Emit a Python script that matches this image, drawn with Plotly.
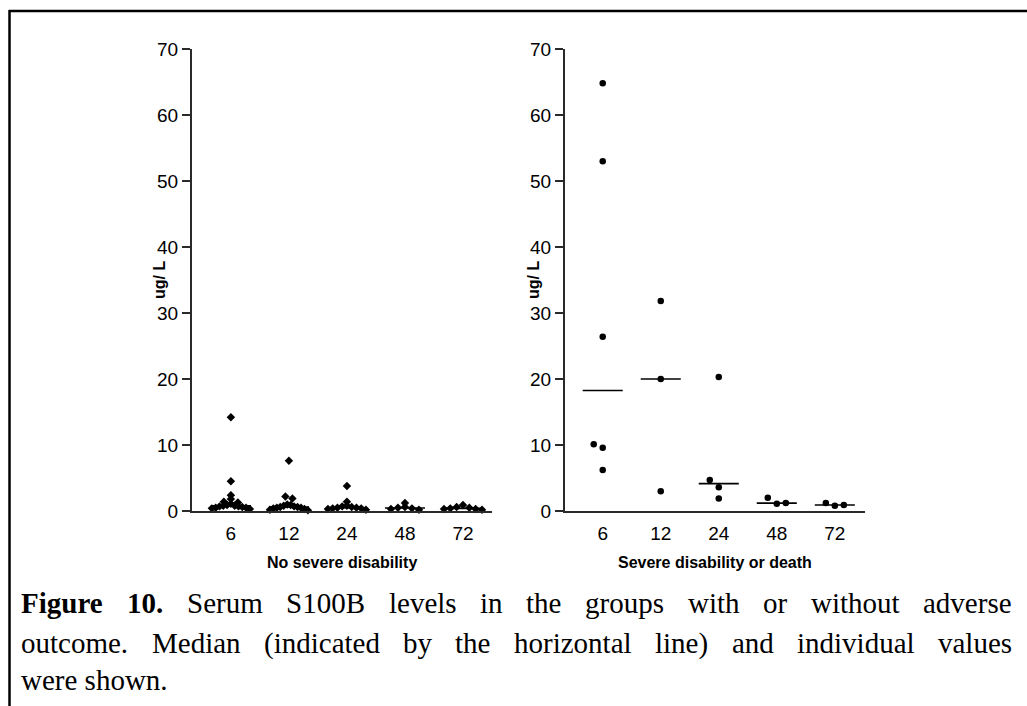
import numpy as np
import plotly.graph_objects as go

# ---------------- data ----------------
time_labels = ["6", "12", "24", "48", "72"]

no_severe_6 = [14.2, 4.5, 2.4, 1.8, 1.4, 1.3, 1.1, 0.9, 0.8, 0.8, 0.7, 0.7, 0.6, 0.5, 0.5, 0.4, 0.3]
no_severe_12 = [7.6, 2.2, 1.9, 1.0, 0.9, 0.8, 0.7, 0.6, 0.6, 0.5, 0.5, 0.4, 0.3, 0.2, 0.1]
no_severe_24 = [3.8, 1.4, 0.8, 0.7, 0.6, 0.5, 0.5, 0.4, 0.4, 0.3, 0.2]
no_severe_48 = [1.2, 0.6, 0.5, 0.4, 0.3, 0.2]
no_severe_72 = [0.9, 0.6, 0.5, 0.4, 0.3, 0.3, 0.2]

severe_6 = [6.2, 9.6, 10.1, 26.4, 53.0, 64.8]
severe_12 = [3.0, 20.0, 31.8]
severe_24 = [1.9, 3.6, 4.7, 20.3]
severe_48 = [1.1, 2.0, 1.2]
severe_72 = [0.8, 1.2, 0.9]

left_groups = [no_severe_6, no_severe_12, no_severe_24, no_severe_48, no_severe_72]
right_groups = [severe_6, severe_12, severe_24, severe_48, severe_72]

left_title = "No severe disability"
right_title = "Severe disability or death"
y_title = "ug/ L"
caption_lines = [
    ["<b>Figure</b>", "<b>10.</b>", "Serum", "S100B", "levels", "in", "the", "groups",
     "with", "or", "without", "adverse"],
    ["outcome.", "Median", "(indicated", "by", "the", "horizontal", "line)", "and",
     "individual", "values"],
    ["were shown."],
]

# ---------------- layout geometry ----------------
W, H = 1027, 706
def fx(p):
    return p / W
def fy(p):
    return 1 - p / H

Y_TOP, Y_BOT = 49, 511
Y_RANGE = [0, 70]
L_X0, L_X1 = 192, 492
R_X0, R_X1 = 565, 865
L_RANGE = [0.33, 5.5]
R_RANGE = [0.35, 5.52]
ppy = (Y_BOT - Y_TOP) / (Y_RANGE[1] - Y_RANGE[0])
ppx_l = (L_X1 - L_X0) / (L_RANGE[1] - L_RANGE[0])
ppx_r = (R_X1 - R_X0) / (R_RANGE[1] - R_RANGE[0])


def row_swarm(vals, row_h, d, wmax, ppx):
    """Rows of points spread symmetrically (highest value in the centre)."""
    vals = np.asarray(vals, float)
    off = np.zeros(len(vals))
    rows = np.floor(vals / row_h).astype(int)
    for r in np.unique(rows):
        idx = np.where(rows == r)[0]
        idx = idx[np.argsort(-vals[idx], kind="stable")]
        n = len(idx)
        step = d if n == 1 else min(d, 2 * wmax / (n - 1))
        slots = list(np.arange(n) - (n - 1) / 2)
        order = sorted(slots, key=lambda s: (abs(s), s))
        for k, i in enumerate(idx):
            off[i] = order[k] * step / ppx
    return off


def collide_swarm(vals, d, ppx, ppy):
    """Points placed in data order; shifted sideways when they would overlap."""
    vals = np.asarray(vals, float)
    off = np.zeros(len(vals))
    placed = []
    cands = [0] + [s * j for j in range(1, 12) for s in (-1, 1)]
    for i in range(len(vals)):
        y = vals[i] * ppy
        x = 0
        for c in cands:
            x = c * d
            if all(np.hypot(x - px_, y - py_) >= d - 1e-9 for px_, py_ in placed):
                break
        placed.append((x, y))
        off[i] = x / ppx
    return off


fig = go.Figure()

MED_HALF = 0.345
AX_COLOR = "#2a2a2a"

def add_panel(groups, xa, ya, symbol, size, offsets_fn):
    xs, ys, mx, my = [], [], [], []
    for k, g in enumerate(groups):
        pos = k + 1
        off = offsets_fn(g)
        xs += list(pos + off)
        ys += list(g)
        med = float(np.median(g))
        mx += [pos - MED_HALF, pos + MED_HALF, None]
        my += [med, med, None]
    fig.add_trace(go.Scatter(x=mx, y=my, mode="lines", xaxis=xa, yaxis=ya,
                             line=dict(color="black", width=1.6),
                             hoverinfo="skip", showlegend=False, cliponaxis=False))
    fig.add_trace(go.Scatter(x=xs, y=ys, mode="markers", xaxis=xa, yaxis=ya,
                             marker=dict(symbol=symbol, size=size, color="black",
                                         line=dict(width=0)),
                             showlegend=False, cliponaxis=False))

add_panel(left_groups, "x", "y", "diamond", 6.5,
          lambda g: row_swarm(g, 1.2, 7, 19, ppx_l))
add_panel(right_groups, "x2", "y2", "circle", 6.5,
          lambda g: collide_swarm(g, 9, ppx_r, ppy))

tickfont = dict(family="Liberation Sans, Arial, sans-serif", size=19, color="black")
common_x = dict(showline=True, linecolor=AX_COLOR, linewidth=2, ticks="",
                showgrid=False, zeroline=False, tickvals=[1, 2, 3, 4, 5],
                ticktext=time_labels, tickfont=tickfont, ticklabelstandoff=4,
                automargin=False)
common_y = dict(showline=True, linecolor=AX_COLOR, linewidth=2, ticks="outside",
                ticklen=8, tickwidth=2, tickcolor=AX_COLOR, showgrid=False,
                zeroline=False, range=Y_RANGE, dtick=10, tickfont=tickfont,
                domain=[fy(Y_BOT), fy(Y_TOP)], automargin=False)

fig.update_layout(
    width=W, height=H,
    autosize=False,
    margin=dict(l=0, r=0, t=0, b=0, pad=0, autoexpand=False),
    paper_bgcolor="white", plot_bgcolor="rgba(0,0,0,0)",
    xaxis=dict(domain=[fx(L_X0), fx(L_X1)], range=L_RANGE, anchor="y", **common_x),
    yaxis=dict(anchor="x", **common_y),
    xaxis2=dict(domain=[fx(R_X0), fx(R_X1)], range=R_RANGE, anchor="y2", **common_x),
    yaxis2=dict(anchor="x2", **common_y),
    showlegend=False,
)

title_font = dict(family="Liberation Sans, Arial, sans-serif", size=16, color="black")
ann = []
ann.append(dict(text="<b>%s</b>" % left_title, x=fx((L_X0 + L_X1) / 2), y=fy(562),
                xref="paper", yref="paper", showarrow=False, font=title_font,
                xanchor="center", yanchor="middle"))
ann.append(dict(text="<b>%s</b>" % right_title, x=fx((R_X0 + R_X1) / 2), y=fy(562),
                xref="paper", yref="paper", showarrow=False, font=title_font,
                xanchor="center", yanchor="middle"))
for xc in (159, 533):
    ann.append(dict(text="<b>%s</b>" % y_title, x=fx(xc), y=fy((Y_TOP + Y_BOT) / 2),
                    xref="paper", yref="paper", showarrow=False, font=title_font,
                    textangle=-90, xanchor="center", yanchor="middle"))

# ---- justified caption (Times metrics) ----
TIMES = {' ': 250, '(': 333, ')': 333, '.': 250, 'B': 667, 'F': 556, 'M': 889, 'S': 556,
         'a': 444, 'b': 500, 'c': 444, 'd': 500, 'e': 444, 'f': 333, 'g': 500, 'h': 500,
         'i': 278, 'j': 278, 'k': 500, 'l': 278, 'm': 778, 'n': 500, 'o': 500, 'p': 500,
         'q': 500, 'r': 333, 's': 389, 't': 278, 'u': 500, 'v': 500, 'w': 722, 'x': 500,
         'y': 500, 'z': 444}
TIMES_BOLD = {'F': 611, 'i': 278, 'g': 500, 'u': 556, 'r': 444, 'e': 444, '.': 250}
for dch in "0123456789":
    TIMES[dch] = 500
    TIMES_BOLD[dch] = 500

def word_width(w, fs):
    bold = w.startswith("<b>")
    t = w.replace("<b>", "").replace("</b>", "")
    tab = TIMES_BOLD if bold else TIMES
    return sum(tab.get(c, TIMES.get(c, 500)) for c in t) * fs / 1000.0

CAP_FS = 29
cap_font = dict(family="Liberation Serif, Times New Roman, serif", size=CAP_FS, color="black")
CAP_X0, CAP_X1 = 20, 1011
line_centers = [603, 643, 680]
for li, words in enumerate(caption_lines):
    yc = fy(line_centers[li])
    if li < len(caption_lines) - 1:
        widths = [word_width(w, CAP_FS) for w in words]
        gap = (CAP_X1 - CAP_X0 - sum(widths)) / (len(words) - 1)
        xpos = CAP_X0
        for w, wd in zip(words, widths):
            ann.append(dict(text=w, x=fx(xpos), y=yc, xref="paper", yref="paper",
                            showarrow=False, font=cap_font, xanchor="left",
                            yanchor="middle", borderpad=0))
            xpos += wd + gap
    else:
        ann.append(dict(text=words[0], x=fx(CAP_X0), y=yc, xref="paper", yref="paper",
                        showarrow=False, font=cap_font, xanchor="left",
                        yanchor="middle", borderpad=0))

fig.update_layout(annotations=ann)

# frame lines
fig.add_shape(type="line", xref="paper", yref="paper", x0=fx(9), x1=1.0, y0=fy(11), y1=fy(11),
              line=dict(color="black", width=2.5))
fig.add_shape(type="line", xref="paper", yref="paper", x0=fx(9.5), x1=fx(9.5), y0=fy(10), y1=0,
              line=dict(color="black", width=2.5))

fig.write_html("out.html")
